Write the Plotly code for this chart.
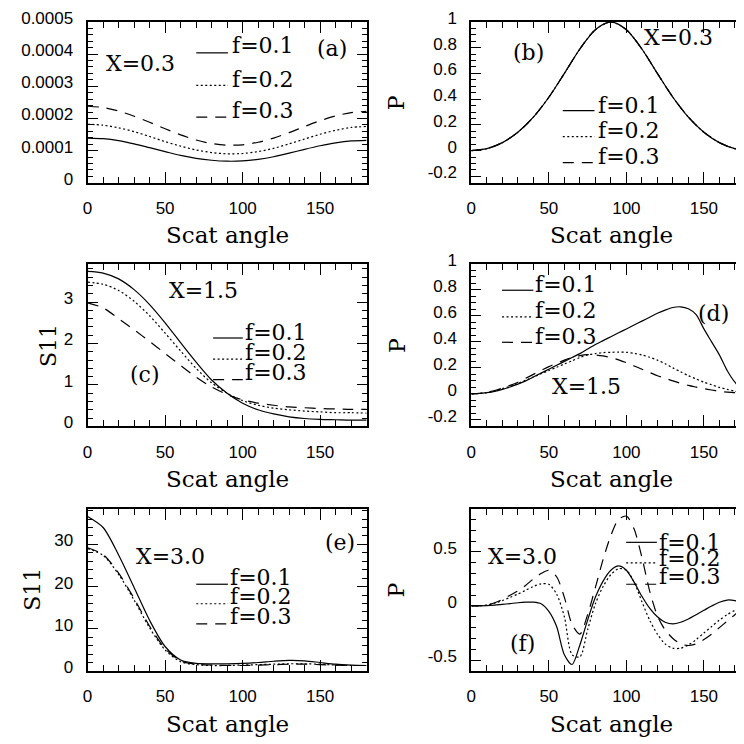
import plotly.graph_objects as go

W = H = 744

# ---- data ----
angle10 = [0, 10, 20, 30, 40, 50, 60, 70, 80, 90, 100, 110, 120, 130, 140, 150, 160, 170, 180]
angle5 = list(range(0, 181, 5))

# (a) S11, X=0.3
a_f1 = [0.000139, 0.000137, 0.000131, 0.000121, 0.000109, 0.000097, 0.000085, 0.000076, 0.000070, 0.000067,
        0.000068, 0.000073, 0.000081, 0.000092, 0.000104, 0.000115, 0.000124, 0.000130, 0.000132]
a_f2 = [0.000182, 0.000179, 0.000171, 0.000159, 0.000144, 0.000128, 0.000114, 0.000102, 0.000094, 0.000090,
        0.000091, 0.000097, 0.000107, 0.000121, 0.000136, 0.000151, 0.000163, 0.000172, 0.000175]
a_f3 = [0.000238, 0.000234, 0.000223, 0.000207, 0.000188, 0.000168, 0.000149, 0.000133, 0.000122, 0.000117,
        0.000118, 0.000126, 0.000139, 0.000156, 0.000175, 0.000193, 0.000208, 0.000218, 0.000222]

# (b) P, X=0.3 (the three curves coincide)
b_f1 = [0.0, 0.015, 0.062, 0.143, 0.26, 0.415, 0.60, 0.79, 0.94, 1.0,
        0.94, 0.79, 0.60, 0.415, 0.26, 0.143, 0.062, 0.015, 0.0]
b_f2 = list(b_f1)
b_f3 = list(b_f1)

# (c) S11, X=1.5
c_f1 = [3.74, 3.70, 3.56, 3.30, 2.94, 2.50, 2.02, 1.55, 1.12, 0.80, 0.56, 0.40, 0.30, 0.23, 0.19, 0.17, 0.16, 0.15, 0.15]
c_f2 = [3.48, 3.43, 3.28, 3.02, 2.67, 2.25, 1.82, 1.40, 1.05, 0.80, 0.62, 0.51, 0.44, 0.40, 0.37, 0.35, 0.33, 0.33, 0.32]
c_f3 = [2.98, 2.86, 2.60, 2.33, 2.05, 1.76, 1.47, 1.19, 0.95, 0.77, 0.64, 0.56, 0.51, 0.47, 0.45, 0.43, 0.42, 0.41, 0.41]

# (d) P, X=1.5
d_f1 = [0.0, 0.003, 0.01, 0.02, 0.035, 0.053, 0.075, 0.10, 0.13, 0.16, 0.19, 0.22, 0.25, 0.28, 0.31, 0.345,
        0.38, 0.41, 0.44, 0.47, 0.50, 0.53, 0.56, 0.59, 0.62, 0.645, 0.665, 0.67, 0.655, 0.61, 0.50, 0.40,
        0.30, 0.18, 0.09, 0.03, 0.0]
d_f2 = [0.0, 0.003, 0.01, 0.022, 0.04, 0.058, 0.08, 0.105, 0.13, 0.155, 0.18, 0.205, 0.23, 0.255, 0.28, 0.30,
        0.31, 0.318, 0.32, 0.322, 0.32, 0.312, 0.30, 0.282, 0.26, 0.232, 0.20, 0.17, 0.14, 0.115, 0.09, 0.07,
        0.05, 0.035, 0.02, 0.008, 0.0]
d_f3 = [0.0, 0.004, 0.012, 0.026, 0.045, 0.066, 0.09, 0.12, 0.15, 0.18, 0.21, 0.235, 0.26, 0.28, 0.295, 0.302,
        0.30, 0.292, 0.28, 0.262, 0.24, 0.215, 0.19, 0.165, 0.14, 0.12, 0.10, 0.082, 0.065, 0.052, 0.04, 0.03,
        0.02, 0.014, 0.01, 0.005, 0.0]

# (e) S11, X=3.0
e_f1 = [36.6, 34.0, 27.5, 19.8, 12.0, 5.8, 2.6, 1.8, 1.7, 1.7, 1.8, 2.0, 2.3, 2.5, 2.4, 2.0, 1.6, 1.4, 1.3]
e_f2 = [29.0, 27.4, 22.9, 16.8, 10.2, 5.0, 2.2, 1.5, 1.3, 1.3, 1.4, 1.5, 1.6, 1.7, 1.7, 1.6, 1.4, 1.3, 1.3]
e_f3 = [29.2, 27.6, 23.2, 17.2, 10.6, 5.3, 2.4, 1.6, 1.4, 1.3, 1.3, 1.4, 1.5, 1.6, 1.6, 1.5, 1.4, 1.3, 1.3]

# (f) P, X=3.0
f_f1 = [0.0, 0.001, 0.003, 0.008, 0.015, 0.022, 0.03, 0.035, 0.035, 0.02, -0.05, -0.19, -0.45, -0.54, -0.36,
        -0.13, 0.08, 0.23, 0.33, 0.37, 0.33, 0.22, 0.09, -0.02, -0.10, -0.15, -0.165, -0.15, -0.12, -0.08,
        -0.04, 0.0, 0.035, 0.055, 0.05, 0.03, 0.0]
f_f2 = [0.0, 0.002, 0.01, 0.025, 0.05, 0.08, 0.11, 0.145, 0.18, 0.205, 0.20, 0.11, -0.10, -0.45, -0.47,
        -0.22, 0.02, 0.18, 0.29, 0.345, 0.33, 0.22, 0.04, -0.13, -0.26, -0.35, -0.39, -0.39, -0.36, -0.31,
        -0.25, -0.19, -0.13, -0.08, -0.04, -0.005, 0.02]
f_f3 = [0.0, 0.002, 0.01, 0.03, 0.06, 0.10, 0.14, 0.19, 0.25, 0.30, 0.33, 0.27, 0.08, -0.17, -0.26,
        -0.08, 0.17, 0.43, 0.65, 0.80, 0.83, 0.71, 0.45, 0.14, -0.09, -0.22, -0.30, -0.35, -0.365, -0.35,
        -0.31, -0.26, -0.20, -0.14, -0.08, -0.03, 0.0]

labels = ["f=0.1", "f=0.2", "f=0.3"]

# ---- layout helpers ----
# positions below are screen pixels of the reference; the page body adds an 8px offset
OFF = 8


def px(x):
    return (x - OFF) / W


def py(y):
    return 1 - (y - OFF) / H


SCALE = (365.0 - 83.3) / 180.0
LEFT = (83.3, 365.0)
RIGHT = (470.7, W + OFF)
ROWS = [(9.0, 174.0), (257.3, 424.0), (508.3, 675.0)]

SERIF = "DejaVu Serif"
SANS = "Liberation Sans, Arial"
dashes = ["solid", "2px,2.5px", "11px,8px"]

P_TICKS = [-0.2, 0, 0.2, 0.4, 0.6, 0.8, 1.0]
P_TEXT = ["-0.2", "0", "0.2", "0.4", "0.6", "0.8", "1"]

panels = [
    dict(col=0, row=0, x=angle10, ys=[a_f1, a_f2, a_f3], yr=[0, 0.0005],
         tv=[0, 0.0001, 0.0002, 0.0003, 0.0004, 0.0005],
         tt=["0", "0.0001", "0.0002", "0.0003", "0.0004", "0.0005"], minor=0.00002),
    dict(col=1, row=0, x=angle10, ys=[b_f1, b_f2, b_f3], yr=[-0.25, 1.0],
         tv=P_TICKS, tt=P_TEXT, minor=0.05),
    dict(col=0, row=1, x=angle10, ys=[c_f1, c_f2, c_f3], yr=[0, 3.92],
         tv=[0, 1, 2, 3], tt=["0", "1", "2", "3"], minor=0.2),
    dict(col=1, row=1, x=angle5, ys=[d_f1, d_f2, d_f3], yr=[-0.25, 1.0],
         tv=P_TICKS, tt=P_TEXT, minor=0.05),
    dict(col=0, row=2, x=angle10, ys=[e_f1, e_f2, e_f3], yr=[0, 38.5],
         tv=[0, 10, 20, 30], tt=["0", "10", "20", "30"], minor=2),
    dict(col=1, row=2, x=angle5, ys=[f_f1, f_f2, f_f3], yr=[-0.6, 0.9],
         tv=[-0.5, 0, 0.5], tt=["-0.5", "0", "0.5"], minor=0.1),
]

fig = go.Figure()
layout = {}

for i, p in enumerate(panels):
    n = "" if i == 0 else str(i + 1)
    xl, xr = LEFT if p["col"] == 0 else RIGHT
    yt, yb = ROWS[p["row"]]
    xmax = (xr - xl) / SCALE

    for ys, dash in zip(p["ys"], dashes):
        fig.add_trace(go.Scatter(
            x=p["x"], y=ys, mode="lines", xaxis="x" + n, yaxis="y" + n,
            line=dict(color="black", width=1.2, dash=dash, shape="spline", smoothing=0.8),
            showlegend=False, hoverinfo="skip",
        ))

    common = dict(
        showline=True, linecolor="black", linewidth=2, ticks="inside", tickcolor="black",
        tickwidth=1.3, showgrid=False, zeroline=False, mirror="allticks",
        tickfont=dict(family=SANS, size=17, color="black"),
    )
    layout["xaxis" + n] = dict(
        common, domain=[px(xl), min(px(xr), 1.0)], range=[0, xmax], anchor="y" + n,
        ticklen=11, tickvals=[0, 50, 100, 150],
        ticktext=["0", "50", "100", "150"], ticklabelstandoff=9,
        minor=dict(ticks="inside", ticklen=6, tickwidth=1.3, tickcolor="black", dtick=10, tick0=0),
    )
    layout["yaxis" + n] = dict(
        common, domain=[py(yb), min(py(yt), 1.0)], range=p["yr"], anchor="x" + n,
        ticklen=10, tickvals=p["tv"], ticktext=p["tt"], ticklabelstandoff=9, ticklabelshift=-4,
        minor=dict(ticks="inside", ticklen=5, tickwidth=1.3, tickcolor="black", dtick=p["minor"], tick0=0),
    )

annotations = []
shapes = []


def text(x, y, s, anchor="left", size=22, angle=0):
    annotations.append(dict(x=px(x), y=py(y), xref="paper", yref="paper", text=s, showarrow=False,
                            xanchor=anchor, yanchor="middle", textangle=angle,
                            font=dict(family=SERIF, size=size, color="black")))


def key(x0, x1, y, dash):
    shapes.append(dict(type="line", xref="paper", yref="paper", x0=px(x0), x1=px(x1), y0=py(y), y1=py(y),
                       line=dict(color="black", width=1.2, dash=dash)))


# axis titles
for row in range(3):
    yb = ROWS[row][1]
    text((LEFT[0] + LEFT[1]) / 2, yb + 54, "Scat angle", anchor="center", size=23)
    text(RIGHT[0] + 141, yb + 54, "Scat angle", anchor="center", size=23)
    yc = (ROWS[row][0] + ROWS[row][1]) / 2
    text(395.5, yc, "P", anchor="center", angle=-90)
text(43.3, (ROWS[1][0] + ROWS[1][1]) / 2, "S11", anchor="center", angle=-90)
text(28.3, (ROWS[2][0] + ROWS[2][1]) / 2, "S11", anchor="center", angle=-90)

# panel labels
text(100, 52, "X=0.3")
text(330, 36, "(a)", anchor="center")
text(528, 40, "(b)", anchor="center")
text(643, 25, "X=0.3")
text(163, 285, "X=1.5")
text(141.7, 371, "(c)", anchor="center")
text(550, 383, "X=1.5")
text(715, 308, "(d)", anchor="center")
text(130, 558, "X=3.0")
text(338, 543, "(e)", anchor="center")
text(485, 558, "X=3.0")
text(522.5, 647, "(f)", anchor="center")

# in-panel keys: (line x0, x1, text x, text y centres, line y)
keys = [
    (193, 225, 227, [33, 68, 100], [40.7, 74, 106.7]),
    (563, 595, 597, [95, 120, 146.7], [100, 126.7, 153.3]),
    (210, 240, 240, [327.3, 348.3, 368.3], [333.3, 355, 376]),
    (501.7, 533.3, 533.3, [278.3, 305, 331.7], [284.3, 311.7, 337.7]),
    (193, 225, 225, [579, 598.3, 619], [586, 606, 626.7]),
    (627, 658, 658, [543.3, 560, 578.3], [543, 564, 586]),
]
for x0, x1, tx, tys, lys in keys:
    for lab, ty, ly, dash in zip(labels, tys, lys, dashes):
        text(tx, ty, lab)
        key(x0, x1, ly, dash)

fig.update_layout(
    **layout,
    annotations=annotations,
    shapes=shapes,
    width=W, height=H,
    margin=dict(l=0, r=0, t=0, b=0),
    paper_bgcolor="white", plot_bgcolor="white",
    showlegend=False,
)

fig.write_html("out.html")
